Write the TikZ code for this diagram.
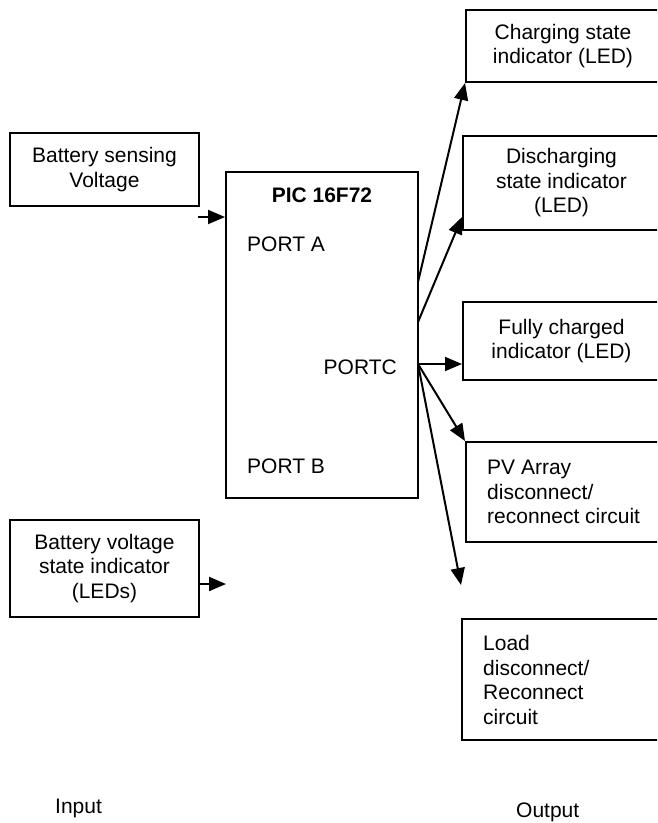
\documentclass[tikz,border=0pt]{standalone}
\usepackage{fontspec}
\setmainfont{Liberation Sans}
\usetikzlibrary{arrows.meta}
\begin{document}
\begin{tikzpicture}[x=1pt,y=-1pt,
  box/.style={draw, line width=2pt, inner sep=0pt},
  lbl/.style={inner sep=0pt, font=\fontsize{21}{24.5}\selectfont, align=center},
  lbll/.style={inner sep=0pt, font=\fontsize{21}{24.5}\selectfont, align=left},
  arr/.style={line width=2pt, -{Triangle[length=17pt,width=14pt]}}]
\useasboundingbox (0,0) rectangle (657,823);
\clip (0,0) rectangle (657,823);
% input side
\node[box, lbl, minimum width=189pt, minimum height=73pt] (bsv) at (104.5,169.5) {Battery sensing\\Voltage};
\node[box, lbl, minimum width=189pt, minimum height=97pt] (bvs) at (104.5,568.5) {Battery voltage\\state indicator\\(LEDs)};
% microcontroller
\node[box, minimum width=192pt, minimum height=326pt] (pic) at (322,335) {};
\node[lbl, font=\fontsize{21}{24.5}\selectfont\bfseries] (pictitle) at (322,195) {PIC 16F72};
\node[lbl, anchor=west] (porta) at (247,244) {PORT A};
\node[lbl, anchor=east] (portc) at (397,367) {PORTC};
\node[lbl, anchor=west] (portb) at (247,466) {PORT B};
% output side
\node[box, lbl, minimum width=194pt, minimum height=72pt] (chg) at (563,46) {Charging state\\indicator (LED)};
\node[box, lbl, minimum width=197pt, minimum height=94pt] (dis) at (561.5,183) {Discharging\\state indicator\\(LED)};
\node[box, lbl, minimum width=197pt, minimum height=78pt] (full) at (561.5,341) {Fully charged\\indicator (LED)};
\node[box, minimum width=194pt, minimum height=100pt] (pv) at (563,492) {};
\node[lbll, anchor=west] (pvtext) at (487,492) {PV Array\\disconnect/\\reconnect circuit};
\node[box, minimum width=198pt, minimum height=121pt] (load) at (561,679.5) {};
\node[lbll, anchor=west] (loadtext) at (483,680) {Load\\disconnect/\\Reconnect\\circuit};
% captions
\node[lbl, anchor=west] (input) at (55,808) {Input};
\node[lbl, anchor=west] (output) at (516,812) {Output};
% connectors
\coordinate (in1) at (198,217);
\draw[arr] (in1) -- (in1 -| pic.west);
\coordinate (in2) at (226,584);
\draw[arr] (bvs.east |- in2) -- (in2);
\coordinate (c1) at (418,282);
\coordinate (c2) at (418,322);
\coordinate (pc) at (418,364);
\coordinate (dtip) at (462,217);
\coordinate (ltip) at (461,585);
\draw[arr] (c1) -- (chg.south west);
\draw[arr] (c2) -- (dtip);
\draw[arr] (pc) -- (pc -| full.west);
\draw[arr] (pc) -- (pv.north west);
\draw[arr] (pc) -- (ltip);
\end{tikzpicture}
\end{document}
